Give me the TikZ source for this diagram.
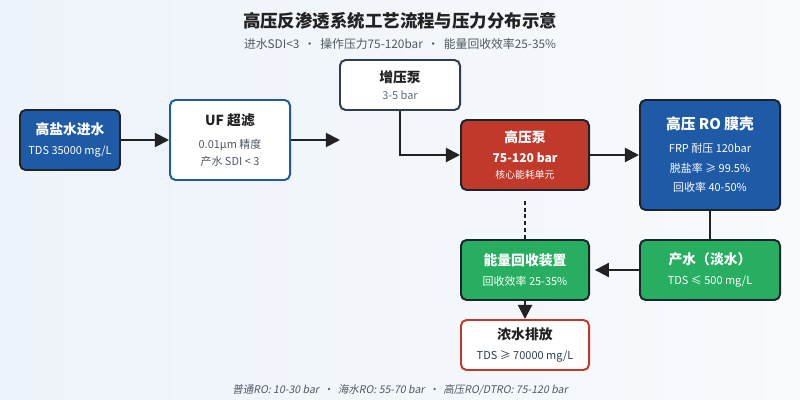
\documentclass[tikz,border=0pt]{standalone}
\usepackage{fontspec}
\setmainfont{Noto Sans CJK SC}[AutoFakeSlant=0.2]
\usepackage{tikz}
\usetikzlibrary{arrows.meta, positioning, calc}
\usepackage{xcolor}
\definecolor{DeepBlue}{RGB}{31,90,166}
\definecolor{PumpRed}{RGB}{192,57,43}
\definecolor{LeafGreen}{RGB}{39,174,96}
\definecolor{EdgeDark}{RGB}{28,36,46}
\definecolor{SlateEdge}{RGB}{44,62,80}
\definecolor{InkDark}{RGB}{34,34,34}
\definecolor{InkGray}{RGB}{80,88,98}
\definecolor{SubSlate}{RGB}{93,109,126}
\definecolor{BgLeft}{RGB}{237,243,250}
\definecolor{BgRight}{RGB}{248,250,253}
\newcommand{\headfont}{\fontsize{9.8}{12}\selectfont\bfseries}
\newcommand{\tinyfont}{\fontsize{7}{9}\selectfont}
\tikzset{
  basebox/.style={rectangle, rounded corners=4pt, line width=1.4pt,
    align=center, font=\fontsize{7.8}{14}\selectfont},
  bluebox/.style={basebox, fill=DeepBlue, draw=EdgeDark, text=white},
  redbox/.style={basebox, fill=PumpRed, draw=EdgeDark, text=white},
  greenbox/.style={basebox, fill=LeafGreen, draw=EdgeDark, text=white},
  plainbox/.style={basebox, fill=white, draw=SlateEdge, text=InkDark},
  arrow/.style={-{Triangle[length=10pt, width=10pt]}, line width=1.4pt, color=InkDark},
  link/.style={line width=1.4pt, color=InkDark}
}

\begin{document}
\begin{tikzpicture}[x=0.025cm, y=-0.025cm]

  % Background
  \fill[left color=BgLeft, right color=BgRight] (0,0) rectangle (800,400);
  \useasboundingbox (0,0) rectangle (800,400);

  % Title
  \node[font=\fontsize{12.4}{14}\selectfont\bfseries, text=InkDark] (title) at (400,21)
    {高压反渗透系统工艺流程与压力分布示意};
  \node[font=\fontsize{8.4}{10}\selectfont, text=InkGray] (subtitle) at (400,44)
    {进水SDI<3 \,·\, 操作压力75-120bar \,·\, 能量回收效率25-35\%};

  % Pretreatment
  \node[bluebox, minimum width=2.5cm, minimum height=1.5cm] (feed) at (70,140)
    {{\headfont 高盐水进水}\\{TDS 35000 mg/L}};
  \node[plainbox, draw=DeepBlue, minimum width=3cm, minimum height=2cm] (uf) at (230,140)
    {{\headfont UF 超滤}\\[2pt]{\color{InkGray}0.01μm 精度}\\[-2pt]{\color{InkGray}产水 SDI < 3}};
  \coordinate (ufout) at (340,140);

  \draw[arrow] (feed) -- (uf);
  \draw[arrow] (uf) -- (ufout);

  % Pumps
  \node[plainbox, minimum width=3cm, minimum height=1.25cm] (boost) at (400,85)
    {{\headfont 增压泵}\\[-2pt]{\color{SubSlate}3-5 bar}};
  \node[redbox, minimum width=3.2cm, minimum height=1.75cm] (hpp) at (525,155)
    {{\headfont 高压泵}\\{\fontsize{8.6}{10}\selectfont\bfseries 75-120 bar}\\[-2.5pt]{\tinyfont 核心能耗单元}};

  \draw[arrow] (boost.south) |- (hpp.west);

  % Membrane stage
  \node[bluebox, minimum width=3.5cm, minimum height=2.75cm] (ro) at (710,155)
    {{\fontsize{10.5}{12}\selectfont\bfseries 高压 RO 膜壳}\\[2pt]FRP 耐压 120bar\\脱盐率 ≥ 99.5\%\\回收率 40-50\%};
  \node[greenbox, minimum width=3.5cm, minimum height=1.5cm] (perm) at (710,270)
    {{\headfont 产水（淡水）}\\TDS ≤ 500 mg/L};

  \draw[arrow] (hpp) -- (ro);
  \draw[link] (ro) -- (perm);

  % Energy recovery and brine
  \node[greenbox, minimum width=3.2cm, minimum height=1.5cm] (erd) at (525,270)
    {{\headfont 能量回收装置}\\回收效率 25-35\%};
  \node[plainbox, draw=PumpRed, minimum width=3.2cm, minimum height=1.25cm] (brine) at (525,345)
    {{\headfont 浓水排放}\\{\color{SlateEdge}TDS ≥ 70000 mg/L}};

  \draw[arrow, shorten >=3.5pt] (perm) -- (erd);
  \draw[link, dash pattern=on 2.8pt off 2pt, shorten <=7pt] (hpp) -- (erd);
  \draw[arrow] (erd) -- (brine);

  % Pressure classes
  \node[font=\fontsize{7.5}{9}\selectfont\itshape, text=InkGray] (note) at (400,390)
    {普通RO: 10-30 bar \,·\, 海水RO: 55-70 bar \,·\, 高压RO/DTRO: 75-120 bar};

\end{tikzpicture}
\end{document}
